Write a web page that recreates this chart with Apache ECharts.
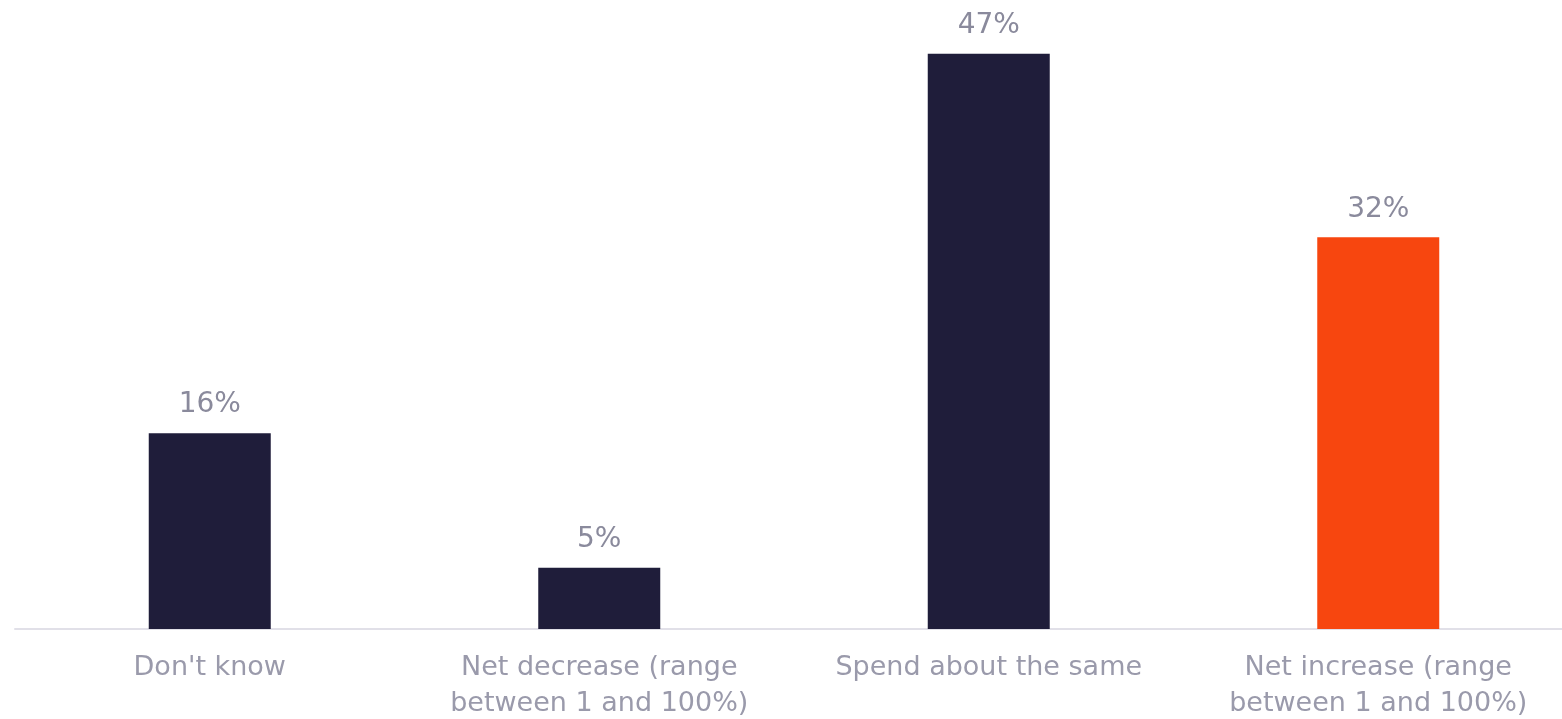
<!DOCTYPE html>
<html><head><meta charset="utf-8">
<script src="https://cdn.jsdelivr.net/npm/echarts@6/dist/echarts.min.js"></script>
<style>html,body{margin:0;padding:0;background:#fff}#c{width:1562px;height:719px}</style>
</head><body><div id="c"></div>
<script>
const categories = ["Don't know", "Net decrease (range\nbetween 1 and 100%)", "Spend about the same", "Net increase (range\nbetween 1 and 100%)"];
const values = [16, 5, 47, 32];
const barColors = ["#1f1d3a", "#1f1d3a", "#1f1d3a", "#f7460f"];

const chart = echarts.init(document.getElementById('c'), null, {renderer: 'canvas'});
chart.setOption({
  animation: false,
  grid: {left: 15, top: 17, right: -11, bottom: 90, containLabel: false, outerBoundsMode: 'none'},
  xAxis: {
    type: 'category', data: categories,
    axisLine: {lineStyle: {color: '#e1e0e8', width: 2}},
    axisTick: {show: false},
    axisLabel: {color: '#9a9aab', fontSize: 27, fontFamily: 'DejaVu Sans', fontWeight: 'normal', lineHeight: 36, margin: 21, interval: 0}
  },
  yAxis: {type: 'value', min: 0, max: 50, show: false, splitLine: {show: false}},
  series: [{
    type: 'bar', barWidth: 122,
    data: values.map((v, i) => ({value: v, itemStyle: {color: barColors[i]}})),
    label: {show: true, position: 'top', distance: 14, formatter: '{c}%', color: '#8a8a9c', fontSize: 28, fontFamily: 'DejaVu Sans'}
  }]
});
</script></body></html>
